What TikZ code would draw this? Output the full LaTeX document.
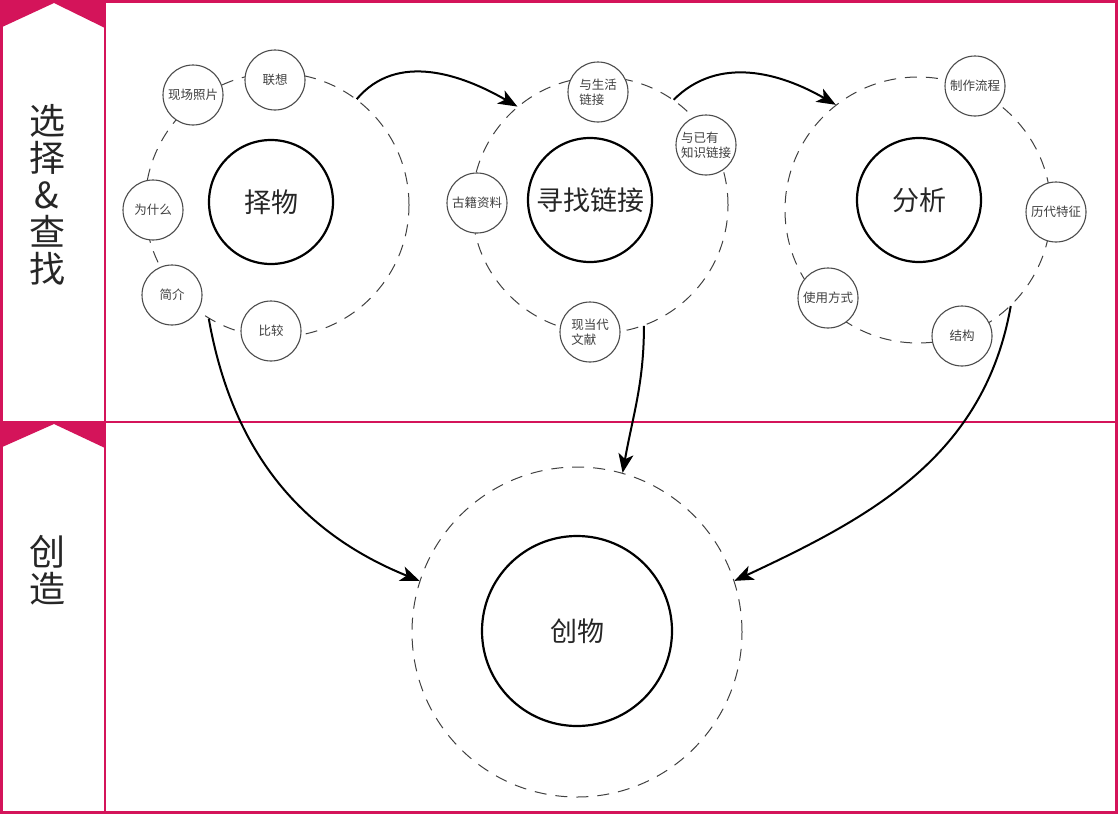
\documentclass[tikz,border=0pt]{standalone}
\usepackage{fontspec}
\setmainfont{Noto Sans CJK SC}
\usetikzlibrary{arrows.meta,positioning}
\definecolor{rose}{HTML}{D4145A}

\begin{document}
\begin{tikzpicture}[x=1pt,y=1pt,
ring/.style={circle,draw=black!75,dash pattern=on 12pt off 9pt,line width=1pt,inner sep=0,minimum size=#1},
core/.style={circle,draw=black,line width=2.2pt,inner sep=0,minimum size=124pt,text=black!85,font=\fontsize{27}{30}\selectfont},
item/.style={circle,draw=black!70,fill=white,line width=1.1pt,inner sep=0,minimum size=60pt,align=left,text=black!75,font=\fontsize{12.5}{15}\selectfont},
link/.style={draw=black,line width=2pt,-{Stealth[length=19pt,width=15pt,inset=5pt]}},
lane/.style={align=center,text=black!85,font=\fontsize{36}{37}\selectfont}]
\useasboundingbox (0,0) rectangle (1118,-814);

% frame
\fill[rose] (0,0) -- (105,0) -- (105,-28) -- (54,-3) -- (0,-28) -- cycle;
\fill[rose] (0,-422) -- (105,-422) -- (105,-448) -- (54,-424) -- (0,-448) -- cycle;
\draw[rose,line width=3pt] (1.5,-1.5) rectangle (1116.5,-812.5);
\draw[rose,line width=2pt] (105,0) -- (105,-814);
\draw[rose,line width=2pt] (0,-422) -- (1118,-422);
\node[lane] (top) at (47,-195) {选\\择\\\&\\查\\找};
\node[lane] (bottom) at (47,-570) {创\\造};

% rings
\node[ring=264pt] (ring1) at (277,-205) {};
\node[ring=256pt] (ring2) at (600,-205) {};
\node[ring=266pt] (ring3) at (918,-210) {};
\node[ring=330pt] (ring4) at (577,-632) {};

% centres
\node[core] (core1) at (271,-202) {择物};
\node[core] (core2) at (590,-200) {寻找链接};
\node[core] (core3) at (919,-200) {分析};
\node[core,minimum size=190pt] (core4) at (577,-631) {创物};

% items
\node[item] (a1) at (275,-80) {联想};
\node[item] (a2) at (193,-95) {现场照片};
\node[item] (a3) at (153,-210) {为什么};
\node[item] (a4) at (172,-295) {简介};
\node[item] (a5) at (271,-331) {比较};

\node[item] (b1) at (598,-92) {与生活\\链接};
\node[item] (b2) at (706,-145) {与已有\\知识链接};
\node[item] (b3) at (477,-203) {古籍资料};
\node[item] (b4) at (590,-332) {现当代\\文献};

\node[item] (c1) at (975,-86) {制作流程};
\node[item] (c2) at (1056,-212) {历代特征};
\node[item] (c3) at (962,-336) {结构};
\node[item] (c4) at (828,-298) {使用方式};

% arrows
\draw[link] (ring1.53) to[out=50,in=150] (ring2.130);
\draw[link] (ring2.55) to[out=45,in=150] (ring3.128);
\draw[link] (ring1.239) to[out=-80,in=158] (ring4.162);
\draw[link] (ring2.290) to[out=-90,in=80] (ring4.74);
\draw[link] (ring3.314) to[out=-100,in=25] (ring4.18);

\end{tikzpicture}
\end{document}
